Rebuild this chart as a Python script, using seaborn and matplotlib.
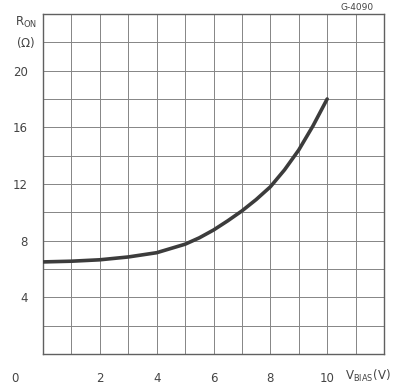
import matplotlib
matplotlib.use('Agg')
import matplotlib.pyplot as plt
import seaborn as sns
import pandas as pd
import numpy as np

# R_ON vs V_BIAS
v_bias = [0, 1, 2, 3, 4, 5, 5.5, 6, 6.5, 7, 7.5, 8, 8.5, 9, 9.5, 10]
r_on = [6.5, 6.55, 6.65, 6.85, 7.15, 7.75, 8.2, 8.75, 9.4, 10.1, 10.9, 11.8, 13.0, 14.4, 16.1, 18.0]

x_ticks = [2, 4, 6, 8, 10]
y_ticks = [4, 8, 12, 16, 20]

sns.set_style('white')
plt.rcParams['font.family'] = ['DejaVu Sans']

df = pd.DataFrame({'vbias': v_bias, 'ron': r_on})

fig = plt.figure(figsize=(3.97, 3.91), dpi=100)
ax = fig.add_axes([43 / 397, 37 / 391, 341 / 397, 340 / 391])

ink = '#3c3c3c'
txt = '#444444'

# grid
for xv in range(0, 13):
    ax.axvline(xv, color='#858585', lw=0.7, zorder=1)
for yv in range(0, 25, 2):
    ax.axhline(yv, color='#858585', lw=0.7, zorder=1)

sns.lineplot(data=df, x='vbias', y='ron', color=ink, lw=2.6, ax=ax, zorder=3)

ax.set_xlim(0, 12)
ax.set_ylim(0, 24)
ax.set_xticks(x_ticks)
ax.set_yticks(y_ticks)
ax.set_xticklabels([str(t) for t in x_ticks])
ax.set_yticklabels([str(t) for t in y_ticks])
ax.tick_params(axis='both', length=0, labelsize=8.5, colors=txt)
ax.tick_params(axis='x', pad=13)
ax.tick_params(axis='y', pad=11)
ax.set_xlabel('')
ax.set_ylabel('')
for s in ax.spines.values():
    s.set_color('#606060')
    s.set_linewidth(1.0)

# extra labels as in the datasheet
fig.text(15 / 397, 1 - 378 / 391, '0', fontsize=8.5, color=txt, ha='center', va='center')
fig.text(345 / 397, 1 - 376 / 391, r'V$_{\mathregular{BIAS}}$(V)', fontsize=8.5,
         color=txt, ha='left', va='center')
fig.text(26 / 397, 1 - 22 / 391, r'R$_{\mathregular{ON}}$', fontsize=8.5,
         color=txt, ha='center', va='center')
fig.text(26 / 397, 1 - 43 / 391, r'($\Omega$)', fontsize=8.5,
         color=txt, ha='center', va='center')
fig.text(357 / 397, 1 - 7 / 391, 'G-4090', fontsize=6.5, color=txt,
         ha='center', va='center')

fig.savefig('out.png', dpi=100, facecolor='white')
